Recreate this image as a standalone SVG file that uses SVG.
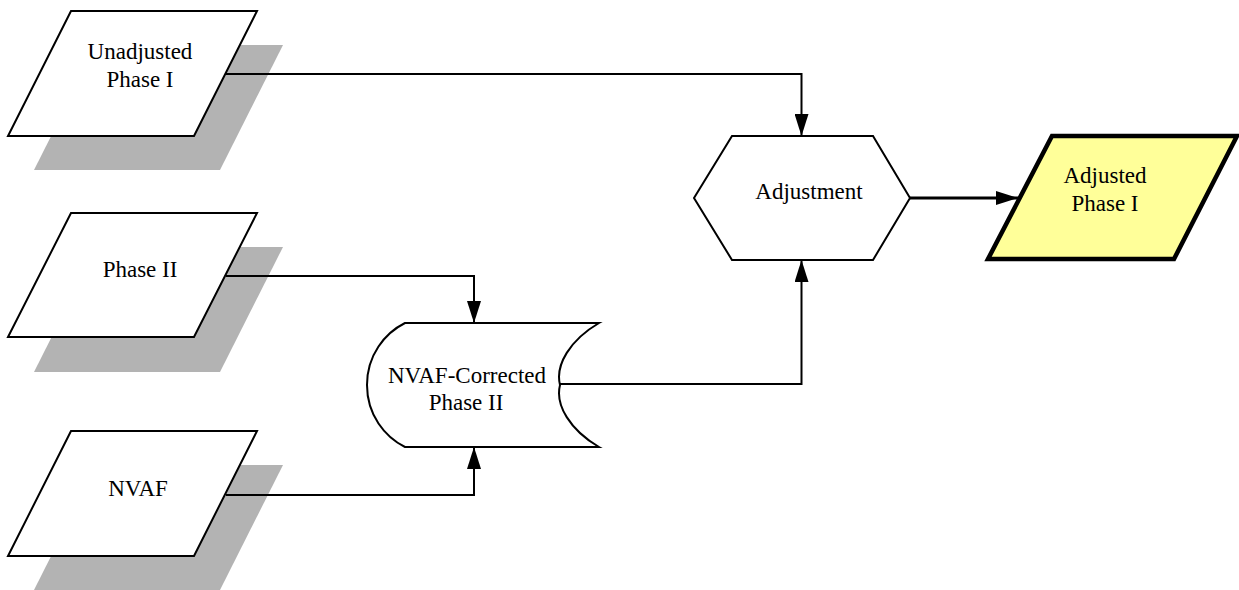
<svg xmlns="http://www.w3.org/2000/svg" width="1239" height="590" viewBox="0 0 1239 590">
<style>
.shadow{fill:#b3b3b3;stroke:none}
.node{fill:#ffffff;stroke:#000000;stroke-width:2;stroke-linejoin:miter}
.out{fill:#ffff99;stroke:#000000;stroke-width:4.5;stroke-linejoin:miter}
.lbl{font-family:"Liberation Serif","Times New Roman",serif;font-size:23px;fill:#000000;text-anchor:middle}
.edge{fill:none;stroke:#000000;stroke-width:2}
.edge2{fill:none;stroke:#000000;stroke-width:3}
</style>
<defs>
<marker id="arr" markerUnits="userSpaceOnUse" viewBox="0 0 22 14" refX="22" refY="7" markerWidth="22" markerHeight="14" orient="auto">
<path d="M0,0 L22,7 L0,14 Z" fill="#000000"/>
</marker>
</defs>
<g id="unadjusted-phase-i">
<polygon class="shadow" points="97,45 283,45 220,170 34,170"/>
<polygon class="node" points="71,11 257,11 194,136 8,136"/>
<text class="lbl" x="140" y="59">Unadjusted</text>
<text class="lbl" x="140" y="87">Phase I</text>
</g>
<g id="phase-ii">
<polygon class="shadow" points="97,247 283,247 220,372 34,372"/>
<polygon class="node" points="71,213 257,213 194,337 8,337"/>
<text class="lbl" x="140" y="277">Phase II</text>
</g>
<g id="nvaf">
<polygon class="shadow" points="97,465 283,465 220,590 34,590"/>
<polygon class="node" points="71,431 257,431 194,556 8,556"/>
<text class="lbl" x="138" y="496">NVAF</text>
</g>
<g id="nvaf-corrected-phase-ii">
<path class="node" d="M405,323 H599 C570,340 555,365 560,385 C555,405 570,430 599,447 H405 C385,437 367,415 367,385 C367,355 385,333 405,323 Z"/>
<text class="lbl" x="467" y="383">NVAF-Corrected</text>
<text class="lbl" x="466" y="410">Phase II</text>
</g>
<g id="adjustment">
<polygon class="node" points="694,198 732,136 873,136 910,198 873,260 732,260"/>
<text class="lbl" x="809" y="199">Adjustment</text>
</g>
<g id="adjusted-phase-i">
<polygon class="out" points="1052,136 1237,136 1174,259 988,259"/>
<text class="lbl" x="1105" y="183">Adjusted</text>
<text class="lbl" x="1105" y="211">Phase I</text>
</g>
<g id="connectors">
<path class="edge" d="M226,74 H801.5 V136" marker-end="url(#arr)"/>
<path class="edge" d="M226,276 H474 V323" marker-end="url(#arr)"/>
<path class="edge" d="M226,495 H474 V447" marker-end="url(#arr)"/>
<path class="edge" d="M560,384 H801.5 V260" marker-end="url(#arr)"/>
<path class="edge2" d="M910,198 H1018" marker-end="url(#arr)"/>
</g>
</svg>
